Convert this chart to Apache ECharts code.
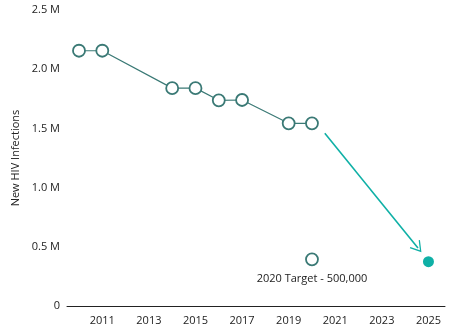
<!DOCTYPE html>
<html>
<head>
<meta charset="utf-8">
<script src="https://cdn.jsdelivr.net/npm/echarts@6/dist/echarts.min.js"></script>
<style>
  html, body { margin: 0; padding: 0; background: #fff; }
  #chart { width: 450px; height: 333px; }
</style>
</head>
<body>
<div id="chart"></div>
<script>
// values in millions
var years = [2010, 2011, 2014, 2015, 2016, 2017, 2019, 2020];
var infections = [2.156, 2.156, 1.84, 1.84, 1.737, 1.74, 1.543, 1.543];
var targetPoint = [2020, 0.394];
var goalPoint = [2025, 0.374];
var arrowFrom = [2020.55, 1.46];
var arrowTo = [2024.55, 0.49];
var xTicks = [2011, 2013, 2015, 2017, 2019, 2021, 2023, 2025];

var lineColor = '#3a7975';
var teal = '#0fb0a6';
var font = 'Open Sans';

var chart = echarts.init(document.getElementById('chart'));

var option = {
    animation: false,
    grid: { left: 67, right: 5, top: 10, bottom: 27 },
    xAxis: {
        type: 'value',
        min: 2009.485,
        max: 2025.71,
        axisLine: { show: true, lineStyle: { color: '#222', width: 1 } },
        axisTick: { show: false },
        splitLine: { show: false },
        axisLabel: {
            customValues: xTicks,
            color: '#222',
            fontFamily: font,
            fontSize: 11,
            margin: 9,
            formatter: function (v) { return String(v); }
        }
    },
    yAxis: {
        type: 'value',
        min: 0,
        max: 2.5,
        interval: 0.5,
        name: 'New HIV Infections',
        nameLocation: 'middle',
        nameGap: 44,
        nameTextStyle: { color: '#222', fontFamily: font, fontSize: 11 },
        axisLine: { show: false },
        axisTick: { show: false },
        splitLine: { show: false },
        axisLabel: {
            color: '#222',
            fontFamily: font,
            fontSize: 11,
            margin: 7,
            formatter: function (v) { return v === 0 ? '0' : v.toFixed(1) + ' M'; }
        }
    },
    series: [
        {
            type: 'line',
            data: years.map(function (y, i) { return [y, infections[i]]; }),
            symbol: 'circle',
            symbolSize: 12,
            lineStyle: { color: lineColor, width: 1.2 },
            itemStyle: { color: '#fff', borderColor: lineColor, borderWidth: 1.8 },
            markLine: {
                silent: true,
                symbol: ['none', 'path://M10,0 L20,17 L18.3,18 L10,4 L1.7,18 L0,17 Z'],
                symbolSize: [13, 11],
                lineStyle: { color: teal, width: 1.6, type: 'solid' },
                label: { show: false },
                data: [[{ coord: arrowFrom }, { coord: arrowTo }]]
            }
        },
        {
            type: 'scatter',
            data: [targetPoint],
            symbol: 'circle',
            symbolSize: 12,
            itemStyle: { color: '#fff', borderColor: lineColor, borderWidth: 1.8, opacity: 1 },
            label: {
                show: true,
                position: 'bottom',
                distance: 7,
                formatter: '2020 Target - 500,000',
                color: '#222',
                fontFamily: font,
                fontSize: 11
            }
        },
        {
            type: 'scatter',
            data: [goalPoint],
            symbol: 'circle',
            symbolSize: 11,
            itemStyle: { color: teal, opacity: 1 }
        }
    ]
};

chart.setOption(option);
</script>
</body>
</html>
